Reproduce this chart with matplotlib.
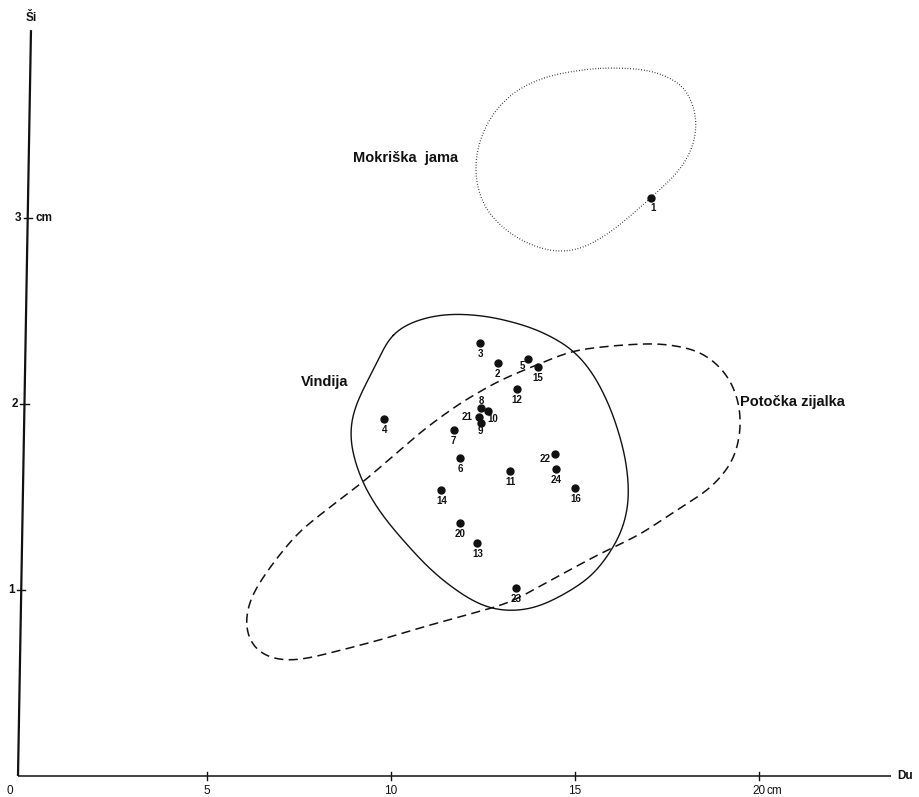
import numpy as np
import matplotlib
matplotlib.use("Agg")
import matplotlib.pyplot as plt

# Specimen measurements: Du (length, cm) vs Ši (width, cm)
ids = ["1", "2", "3", "4", "5", "6", "7", "8", "9", "10", "11", "12",
       "13", "14", "15", "16", "20", "21", "22", "23", "24"]
du = [17.07, 12.90, 12.42, 9.82, 13.73, 11.88, 11.70, 12.44, 12.44, 12.65,
      13.24, 13.43, 12.35, 11.37, 13.99, 15.01, 11.88, 12.38, 14.46, 13.40, 14.48]
si = [3.11, 2.22, 2.33, 1.92, 2.24, 1.71, 1.86, 1.98, 1.90, 1.96,
      1.64, 2.08, 1.25, 1.54, 2.20, 1.55, 1.36, 1.93, 1.73, 1.01, 1.65]

# Site outlines (Du, Ši)
mokriska_du = [15.68, 17.04, 17.99, 18.34, 18.26, 17.85, 17.07, 16.22, 15.41,
               14.78, 14.05, 13.23, 12.55, 12.28, 12.31, 12.69, 13.37, 14.32]
mokriska_si = [3.81, 3.80, 3.72, 3.55, 3.39, 3.25, 3.11, 2.96, 2.85,
               2.81, 2.83, 2.91, 3.04, 3.20, 3.37, 3.55, 3.69, 3.77]

vindija_du = [9.973, 10.788, 11.603, 12.690, 13.913, 14.946, 15.543, 16.033,
              16.386, 16.495, 16.359, 16.141, 15.489, 14.592, 13.859, 12.962,
              12.418, 11.739, 11.060, 10.245, 9.701, 9.212, 8.913, 8.859,
              8.967, 9.321, 9.647]
vindija_si = [2.387, 2.462, 2.489, 2.473, 2.409, 2.301, 2.156, 1.952,
              1.715, 1.500, 1.349, 1.253, 1.070, 0.962, 0.892, 0.882,
              0.914, 1.000, 1.108, 1.285, 1.414, 1.575, 1.753, 1.871,
              1.968, 2.113, 2.226]

potocka_du = [6.005, 6.168, 6.712, 7.446, 8.342, 9.212, 10.870, 11.875,
              12.962, 14.946, 16.223, 17.310, 18.397, 19.076, 19.429, 19.538,
              19.348, 18.723, 17.853, 16.766, 15.761, 14.457, 13.234, 11.060,
              9.701, 8.342, 7.446, 6.712, 6.168]
potocka_si = [0.823, 0.962, 1.124, 1.306, 1.446, 1.575, 1.860, 2.005,
              2.129, 2.290, 2.317, 2.328, 2.290, 2.183, 2.048, 1.887,
              1.699, 1.548, 1.441, 1.296, 1.204, 1.065, 0.930, 0.812,
              0.731, 0.661, 0.618, 0.624, 0.694]

# Label offsets for the point numbers (pixels, x right / y down)
label_offsets = {"1": (2, 10), "5": (-6, 7), "8": (1, -7), "9": (0, 8),
                 "10": (4, 8), "21": (-11, 0), "22": (-10, 5)}


def closed_curve(ax, xs, ys, sigma_px=10.0, n=1200):
    """Smooth closed outline: the outline polygon is resampled evenly along
    its on-screen length and rounded with a circular Gaussian filter."""
    pts = ax.transData.transform(np.column_stack([xs, ys]))
    ring = np.vstack([pts, pts[:1]])
    seg = np.linalg.norm(np.diff(ring, axis=0), axis=1)
    cum = np.concatenate([[0], np.cumsum(seg)])
    total = cum[-1]
    s = np.linspace(0, total, n, endpoint=False)
    res = np.column_stack([np.interp(s, cum, ring[:, 0]),
                           np.interp(s, cum, ring[:, 1])])
    step = total / n
    half = int(4 * sigma_px / step)
    k = np.arange(-half, half + 1) * step
    w = np.exp(-0.5 * (k / sigma_px) ** 2)
    w /= w.sum()
    padded = np.vstack([res[-half:], res, res[:half]])
    sm = np.column_stack([np.convolve(padded[:, 0], w, mode="valid"),
                          np.convolve(padded[:, 1], w, mode="valid")])
    sm = np.vstack([sm, sm[:1]])
    data = ax.transData.inverted().transform(sm)
    return data[:, 0], data[:, 1]


plt.rcParams["font.family"] = ["Liberation Sans", "DejaVu Sans"]

fig = plt.figure(figsize=(9.19, 7.97), dpi=100)
ax = fig.add_axes([0, 0, 1, 1])
ax.set_xlim(-0.625, 24.35)
ax.set_ylim(-0.113, 4.172)
ax.axis("off")

ink = "#111111"

# Hand-drawn axes
ax.plot([-0.136, 23.6], [0.0, 0.0], color=ink, lw=1.1, solid_capstyle="butt")
ax.plot([-0.136, 0.217], [0.0, 4.01], color=ink, lw=1.6, solid_capstyle="butt")

xticks = [5, 10, 15, 20]
xtick_labels = ["5", "10", "15", "20"]
for xv, lab in zip(xticks, xtick_labels):
    ax.plot([xv, xv], [-0.022, 0.022], color=ink, lw=1.0)
    ax.annotate(lab, (xv, 0), xytext=(0, -15), textcoords="offset pixels",
                ha="center", va="center", fontsize=8.5, color=ink)
ax.annotate("cm", (xticks[-1], 0), xytext=(8, -15), textcoords="offset pixels",
            ha="left", va="center", fontsize=8.5, color=ink)

yticks = [1, 2, 3]
for yv in yticks:
    xa = -0.136 + 0.353 * yv / 4.01
    ax.plot([xa - 0.11, xa + 0.11], [yv, yv], color=ink, lw=1.0)
    ax.annotate(str(yv), (xa, yv), xytext=(-10, 0), textcoords="offset pixels",
                ha="center", va="center", fontsize=8.5, fontweight="bold", color=ink)
ax.annotate("cm", (-0.136 + 0.353 * 3 / 4.01, 3), xytext=(8, 0),
            textcoords="offset pixels", ha="left", va="center",
            fontsize=8.5, fontweight="bold", color=ink)
ax.annotate("0", (-0.136, 0), xytext=(-8, -15), textcoords="offset pixels",
            ha="center", va="center", fontsize=8.5, color=ink)
ax.annotate("Du", (23.6, 0), xytext=(14, 0), textcoords="offset pixels",
            ha="center", va="center", fontsize=8.5, fontweight="bold", color=ink)
ax.annotate("Ši", (0.217, 4.01), xytext=(0, 12), textcoords="offset pixels",
            ha="center", va="center", fontsize=8.5, fontweight="bold", color=ink)

# Site outlines
cx, cy = closed_curve(ax, mokriska_du, mokriska_si, sigma_px=14)
ax.plot(cx, cy, color=ink, lw=0.9, linestyle=(0, (0.6, 1.6)))
cx, cy = closed_curve(ax, vindija_du, vindija_si, sigma_px=16)
ax.plot(cx, cy, color=ink, lw=1.0)
cx, cy = closed_curve(ax, potocka_du, potocka_si, sigma_px=14)
ax.plot(cx, cy, color=ink, lw=1.1, linestyle=(0, (6, 3.5)))

# Site names
ax.text(8.97, 3.32, "Mokriška  jama", fontsize=10.5, fontweight="bold",
        ha="left", va="center", color=ink)
ax.text(7.55, 2.12, "Vindija", fontsize=10.5, fontweight="bold",
        ha="left", va="center", color=ink)
ax.text(19.48, 2.01, "Potočka zijalka", fontsize=10.5, fontweight="bold",
        ha="left", va="center", color=ink)

# Specimens
ax.plot(du, si, "o", color=ink, ms=5, mec=ink, zorder=5)
for i, x, y in zip(ids, du, si):
    dx, dy = label_offsets.get(i, (0, 11))
    ax.annotate(i, (x, y), xytext=(dx, -dy), textcoords="offset pixels",
                ha="center", va="center", fontsize=7, fontweight="bold",
                color=ink)

fig.savefig("out.png", dpi=100)
